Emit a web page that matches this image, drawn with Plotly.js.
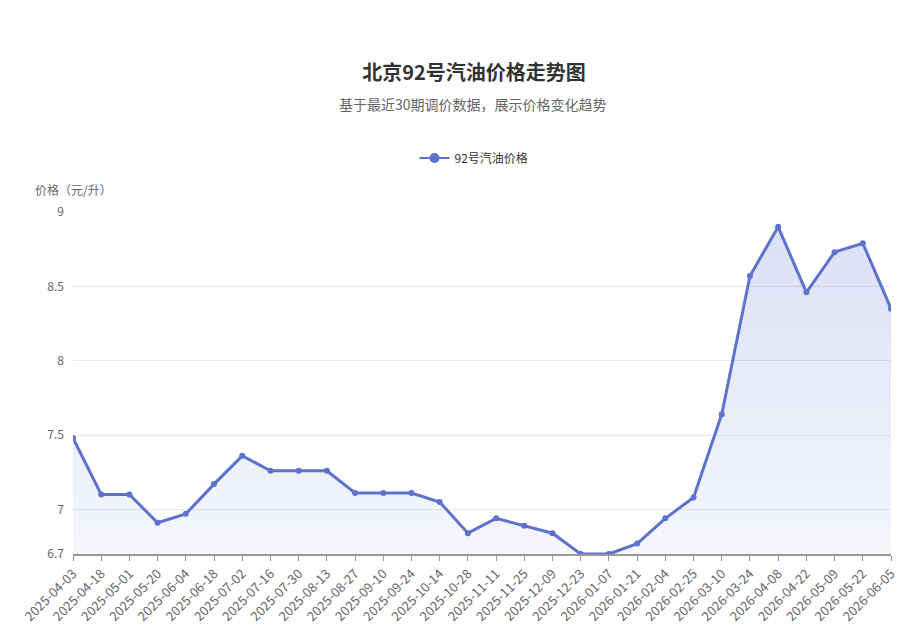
<!DOCTYPE html>
<html>
<head>
<meta charset="utf-8">
<script src="https://cdn.plot.ly/plotly-3.0.1.min.js"></script>
<style>html,body{margin:0;padding:0;background:#fff;}#chart{width:910px;height:641px;}</style>
</head>
<body>
<div id="chart"></div>
<script>
const dates = ["2025-04-03","2025-04-18","2025-05-01","2025-05-20","2025-06-04","2025-06-18","2025-07-02","2025-07-16","2025-07-30","2025-08-13","2025-08-27","2025-09-10","2025-09-24","2025-10-14","2025-10-28","2025-11-11","2025-11-25","2025-12-09","2025-12-23","2026-01-07","2026-01-21","2026-02-04","2026-02-25","2026-03-10","2026-03-24","2026-04-08","2026-04-22","2026-05-09","2026-05-22","2026-06-05"];
const prices = [7.48,7.10,7.10,6.91,6.97,7.17,7.36,7.26,7.26,7.26,7.11,7.11,7.11,7.05,6.84,6.94,6.89,6.84,6.70,6.70,6.77,6.94,7.08,7.64,8.57,8.90,8.46,8.73,8.79,8.35];
const yTicks = [6.7,7,7.5,8,8.5,9];
const seriesName = "92号汽油价格";
const titleText = "北京92号汽油价格走势图";
const subtitleText = "基于最近30期调价数据，展示价格变化趋势";
const yTitle = "价格（元/升）";

const font = "'Noto Sans CJK SC', 'Noto Sans', sans-serif";
const lineColor = "#5e72cd";
const trace = {
  x: dates, y: prices, type: "scatter", mode: "lines+markers", name: seriesName, showlegend: false,
  line: {color: lineColor, width: 3},
  marker: {color: lineColor, size: 6},
  fill: "tozeroy",
  fillcolor: "rgba(94,114,205,0.12)",
  fillgradient: {type: "vertical", start: 6.7, stop: 9,
                 colorscale: [[0, "rgba(94,114,205,0.06)"], [1, "rgba(94,114,205,0.23)"]]}
};
const legendTrace = {
  x: [dates[0]], y: [null], type: "scatter", mode: "lines+markers", name: seriesName, showlegend: true,
  hoverinfo: "skip",
  line: {color: lineColor, width: 2}, marker: {color: lineColor, size: 10}
};
const cx = (474 - 73) / 818;
const layout = {
  width: 910, height: 641,
  margin: {l: 73, r: 19, t: 212, b: 87},
  paper_bgcolor: "#fff", plot_bgcolor: "#fff",
  font: {family: font, color: "#666", size: 12},
  title: {text: titleText, x: 474 / 910, xanchor: "center", y: 1 - 73/641, yanchor: "middle", yref: "container",
          font: {family: font, size: 20, color: "#333", weight: "bold"}},
  showlegend: true,
  legend: {orientation: "h", x: cx, xanchor: "center", y: 1.158, yanchor: "middle", itemwidth: 30,
           font: {family: font, size: 12, color: "#333"}},
  xaxis: {type: "category", range: [0, dates.length - 1], tickangle: -45,
          showgrid: false, showline: true, linecolor: "#999", linewidth: 2,
          ticks: "outside", ticklen: 5, tickcolor: "#999", tickfont: {size: 13, color: "#666"}, zeroline: false},
  yaxis: {range: [6.7, 9], tickvals: yTicks, ticktext: yTicks.map(String), showgrid: true, gridcolor: "#e8e8ee",
          showline: false, zeroline: false, ticks: "", ticklabelstandoff: 8, tickfont: {size: 12, color: "#666"}},
  annotations: [
    {text: subtitleText, xref: "paper", yref: "paper", x: (473 - 73) / 818, xanchor: "center", y: (554-104)/342, yanchor: "middle",
     showarrow: false, font: {family: font, size: 14, color: "#666"}},
    {text: yTitle, xref: "paper", yref: "paper", x: (33-73)/818, xanchor: "left", y: (554-190)/342, yanchor: "middle",
     showarrow: false, font: {family: font, size: 12, color: "#666"}}
  ]
};
Plotly.newPlot("chart", [trace, legendTrace], layout, {displayModeBar: false});
</script>
</body>
</html>
